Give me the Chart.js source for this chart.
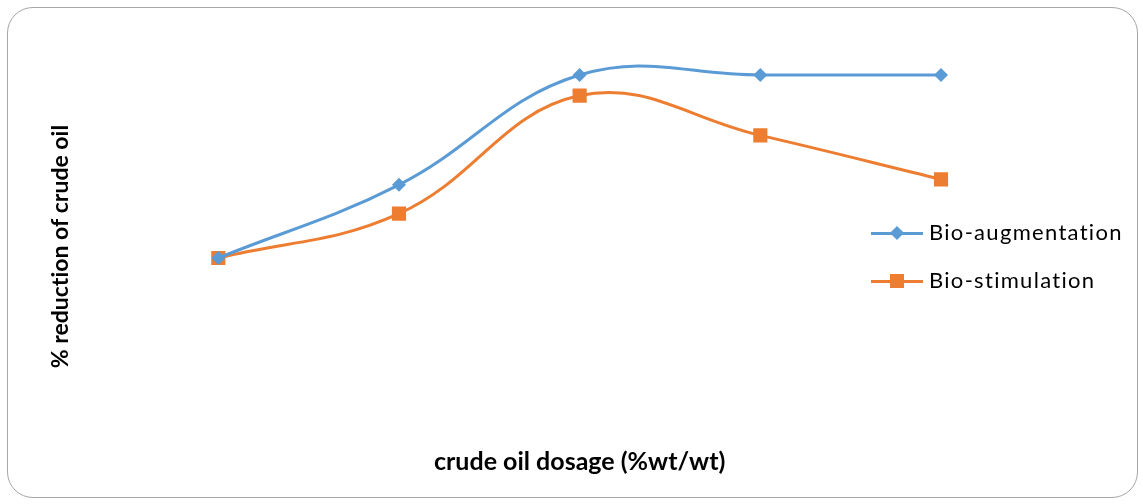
<!DOCTYPE html>
<html lang="en">
<head>
    <meta charset="UTF-8">
    <title>% reduction of crude oil</title>
    <script src="https://cdn.jsdelivr.net/npm/chart.js"></script>
    <style>
        body { margin: 0; background: #fff; }
        .wrap { position: relative; width: 1143px; height: 504px; }
        .frame {
            position: absolute; left: 7px; top: 7px; width: 1129px; height: 489px;
            border: 1.5px solid #a6a6a6; border-radius: 26px;
        }
        canvas { position: absolute; left: 0; top: 0; font-variant-ligatures: none; }
        .legend {
            position: absolute; left: 871px; top: 216px; font-family: Lato, sans-serif; font-size: 22px; color: #000;
            letter-spacing: 1.3px; font-variant-ligatures: none; font-feature-settings: "liga" 0;
        }
        .item { position: relative; height: 48px; line-height: 32px; padding-left: 58px; white-space: nowrap; }
        .item .ln { position: absolute; left: 0; top: 16px; width: 52px; height: 3px; }
        .item .mk { position: absolute; }
    </style>
</head>
<body>
    <div class="wrap">
        <div class="frame"></div>
        <canvas id="grafico" width="1143" height="504"></canvas>
        <div class="legend" id="legenda"></div>
    </div>

    <script>
        // dados
        const dosagens = ['1', '2', '3', '4', '5'];
        const bioAugmentation = [50, 66, 90, 90, 90];
        const bioStimulation = [50, 59.7, 85.5, 76.8, 67.2];

        const azul = '#5b9bd5';
        const laranja = '#ed7d31';

        // sem ligaduras (Lato junta "ti")
        const semLigaduras = {
            id: 'semLigaduras',
            beforeDraw: function (chart) {
                chart.ctx.textRendering = 'optimizeSpeed';
            }
        };

        const ctx = document.getElementById('grafico').getContext('2d');
        const grafico = new Chart(ctx, {
            type: 'line',
            data: {
                labels: dosagens,
                datasets: [{
                    label: 'Bio-augmentation',
                    data: bioAugmentation,
                    borderColor: azul,
                    backgroundColor: azul,
                    borderWidth: 3,
                    tension: 0.4,
                    pointStyle: 'rectRot',
                    pointRadius: 7,
                    pointBorderWidth: 0
                }, {
                    label: 'Bio-stimulation',
                    data: bioStimulation,
                    borderColor: laranja,
                    backgroundColor: laranja,
                    borderWidth: 3,
                    tension: 0.4,
                    pointStyle: 'rect',
                    pointRadius: 10,
                    pointBorderWidth: 0
                }]
            },
            options: {
                responsive: false,
                animation: false,
                layout: { padding: { top: 29.25, right: 202, bottom: 0, left: 46.5 } },
                plugins: { legend: { display: false }, tooltip: { enabled: false } },
                scales: {
                    x: {
                        offset: false,
                        grid: { display: false, drawTicks: false },
                        border: { display: false },
                        ticks: { display: false },
                        title: {
                            display: true,
                            text: 'crude oil dosage (%wt/wt)',
                            font: { family: 'Lato', size: 25, weight: 'bold', lineHeight: 1.2 },
                            color: '#000',
                            padding: { top: -16.875, bottom: 27 }
                        }
                    },
                    y: {
                        min: 5,
                        max: 100,
                        grid: { display: false, drawTicks: false },
                        border: { display: false },
                        ticks: { display: false },
                        title: {
                            display: true,
                            text: '% reduction of crude oil',
                            font: { family: 'Lato', size: 23, weight: 'bold', lineHeight: 1.2 },
                            color: '#000',
                            padding: { top: 0, bottom: 144.2 }
                        }
                    }
                }
            },
            plugins: [semLigaduras]
        });

        // legenda em HTML
        const legenda = document.getElementById('legenda');
        grafico.data.datasets.forEach(function (ds) {
            const item = document.createElement('div');
            item.className = 'item';
            const ln = document.createElement('span');
            ln.className = 'ln';
            ln.style.background = ds.borderColor;
            const mk = document.createElement('span');
            mk.className = 'mk';
            mk.style.background = ds.borderColor;
            if (ds.pointStyle === 'rectRot') {
                mk.style.cssText += 'left:21px;top:12px;width:10px;height:10px;transform:rotate(45deg);';
            } else {
                mk.style.cssText += 'left:19px;top:10px;width:14px;height:14px;';
            }
            item.appendChild(ln);
            item.appendChild(mk);
            item.appendChild(document.createTextNode(ds.label));
            legenda.appendChild(item);
        });
    </script>
</body>
</html>
